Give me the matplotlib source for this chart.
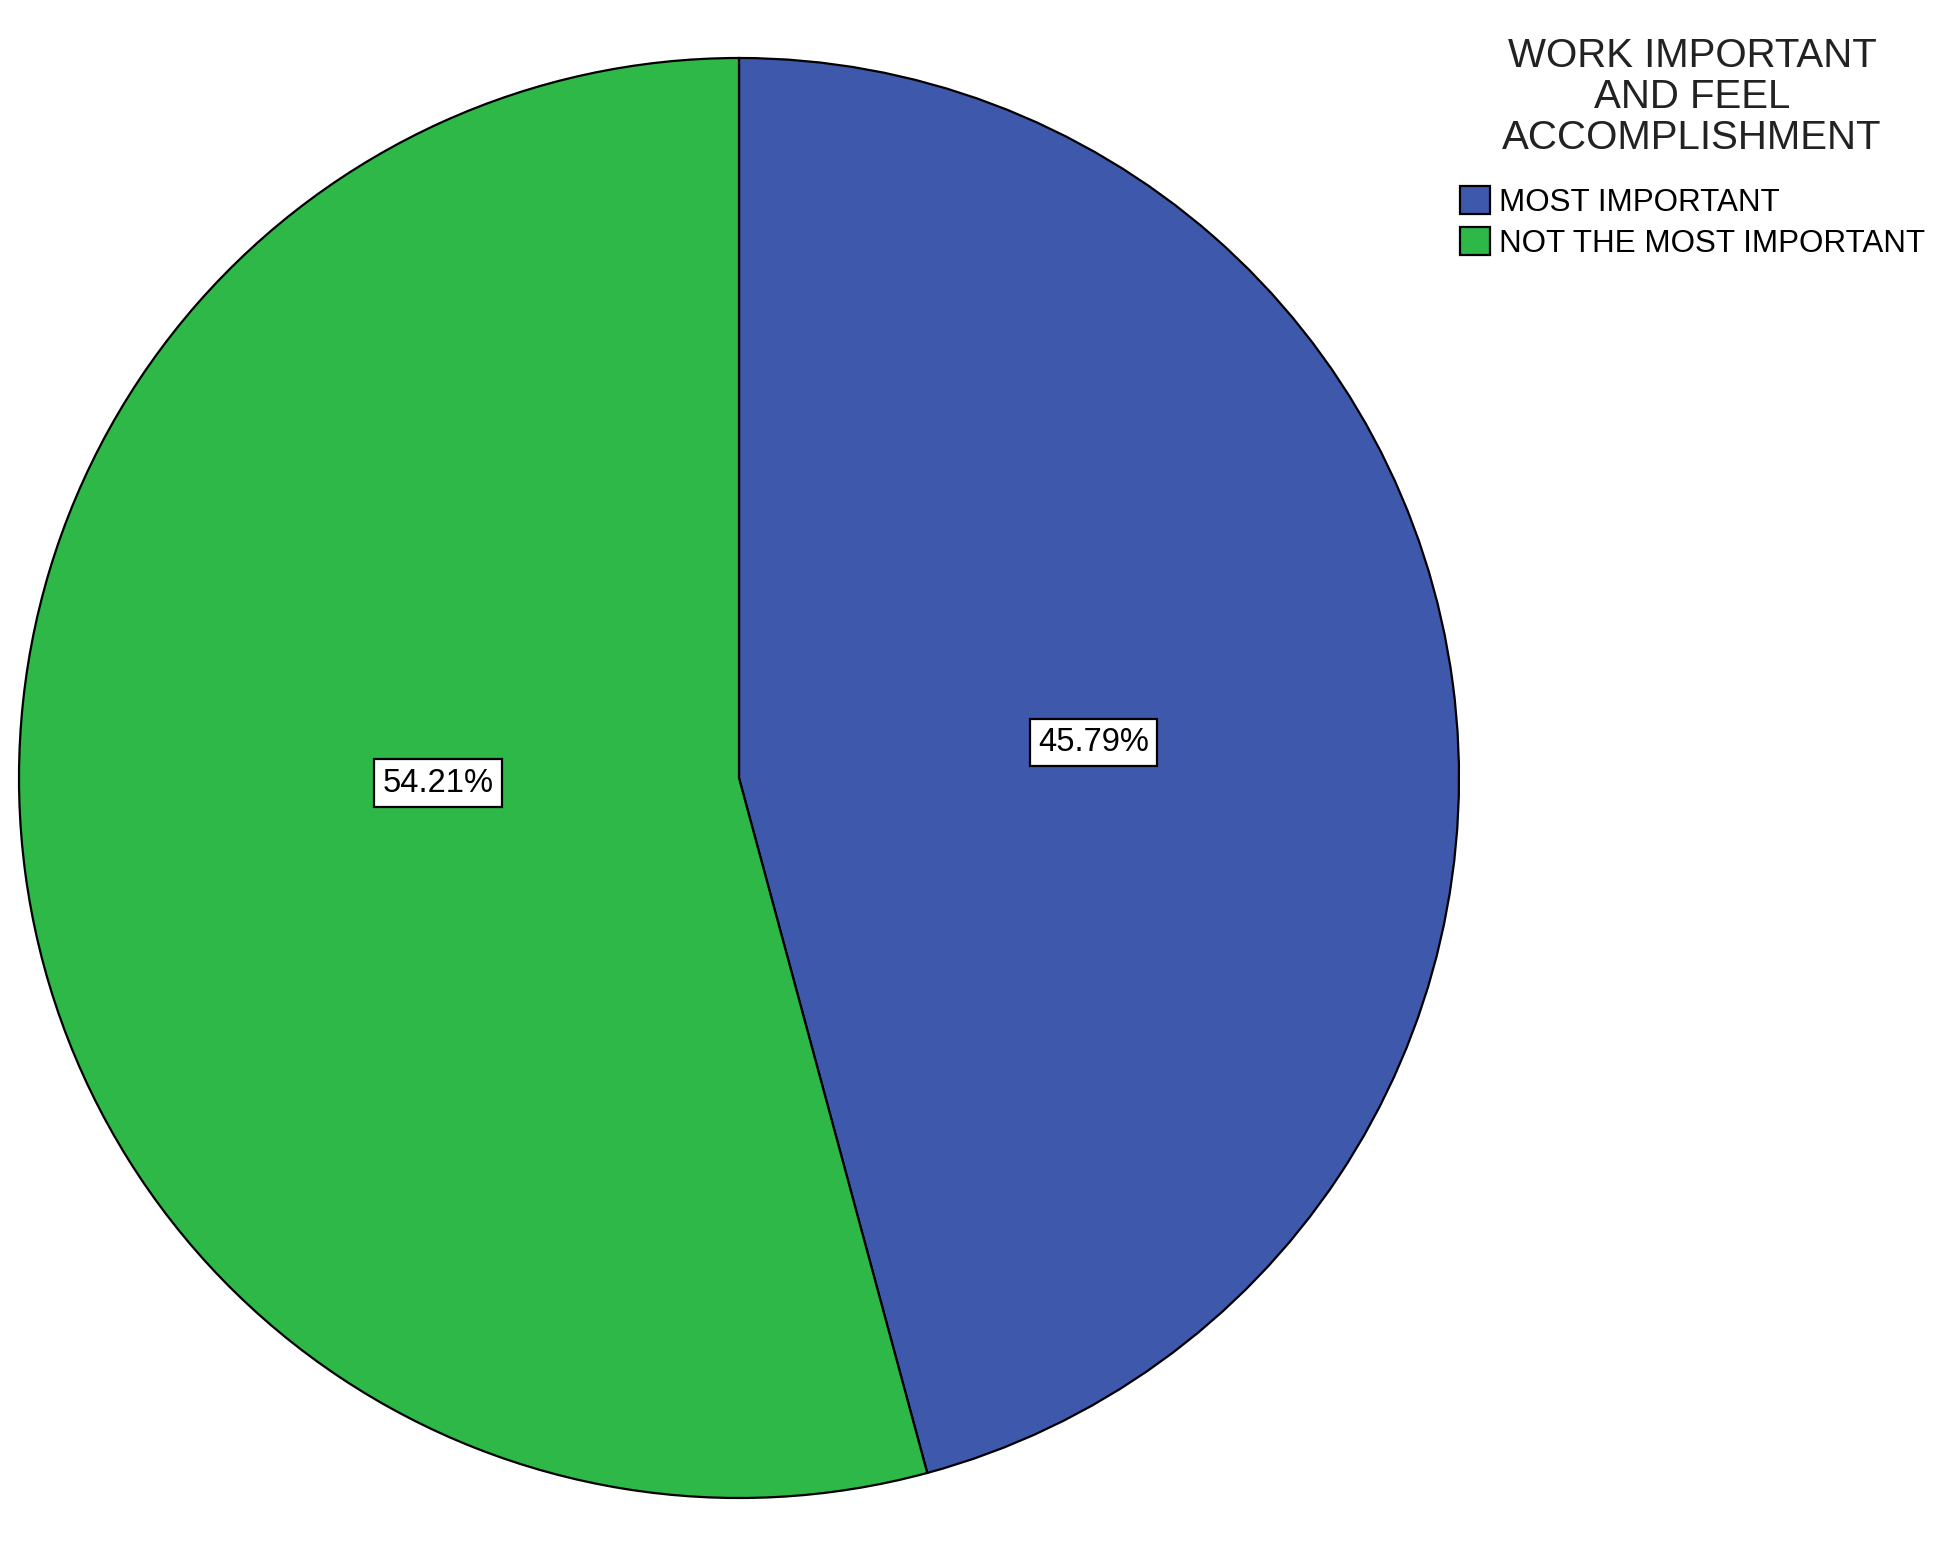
import matplotlib
matplotlib.use("Agg")
import matplotlib.pyplot as plt
from matplotlib.patches import Patch

plt.rcParams['font.family'] = ['Liberation Sans', 'DejaVu Sans']

categories = ["MOST IMPORTANT", "NOT THE MOST IMPORTANT"]
values = [45.79, 54.21]
colors = ["#3E58AC", "#2EB848"]
legend_title = "WORK IMPORTANT\nAND FEEL\nACCOMPLISHMENT"
# label anchor positions (in pie-radius units), as placed in the original
label_pos = [(0.492, 0.049), (-0.418, -0.007)]

fig = plt.figure(figsize=(19.5, 15.6), dpi=100)
ax = fig.add_axes([19 / 1950, 62 / 1560, 1440 / 1950, 1440 / 1560])

wedges, texts, autotexts = ax.pie(
    values, colors=colors, startangle=90, counterclock=False, radius=1,
    autopct=lambda p: f"{p:.2f}%", pctdistance=0.46,
    wedgeprops=dict(edgecolor="black", linewidth=1.6),
    textprops=dict(fontsize=23.5, color="black"))
for t, pos in zip(autotexts, label_pos):
    t.set_position(pos)
    t.set_bbox(dict(boxstyle="square,pad=0.25", facecolor="white",
                    edgecolor="black", linewidth=1.6))
ax.set_xlim(-1, 1)
ax.set_ylim(-1, 1)
ax.set_aspect("equal")
ax.axis("off")

fig.text(1692 / 1950, 1 - 97 / 1560, legend_title, ha="center", va="center",
         multialignment="center", fontsize=29, linespacing=1.1, color="#222222")

handles = [Patch(facecolor=c, edgecolor="black", linewidth=1.6) for c in colors]
leg = fig.legend(handles, categories, loc="upper left",
                 bbox_to_anchor=(1460 / 1950, 1 - 186 / 1560),
                 frameon=False, fontsize=22.6, handlelength=0.95, handleheight=1.0,
                 handletextpad=0.3, labelspacing=0.3, borderpad=0, borderaxespad=0)

fig.savefig("out.png", dpi=100, facecolor="white")
